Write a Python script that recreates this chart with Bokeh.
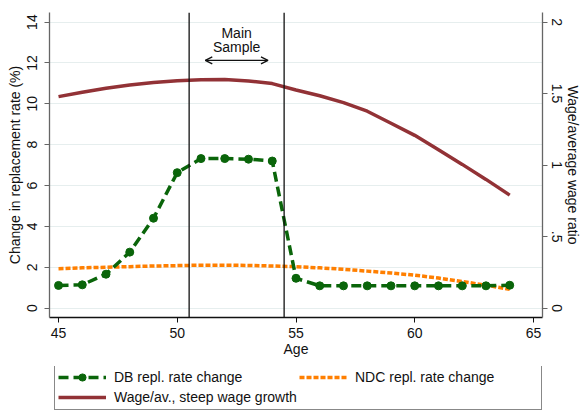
from bokeh.plotting import figure
from bokeh.layouts import column
from bokeh.models import (Range1d, LinearAxis, Span, Label, Arrow, OpenHead,
                          Legend, LegendItem, FixedTicker)
from bokeh.embed import file_html
from bokeh.resources import INLINE

ages = list(range(45, 65))
db_change = [1.11, 1.14, 1.66, 2.74, 4.40, 6.63, 7.32, 7.32, 7.29, 7.20,
             1.46, 1.09, 1.09, 1.09, 1.09, 1.09, 1.09, 1.09, 1.09, 1.12]
ndc_change = [1.93, 1.97, 2.00, 2.03, 2.06, 2.08, 2.10, 2.10, 2.09, 2.06,
              2.03, 1.97, 1.90, 1.81, 1.72, 1.61, 1.47, 1.30, 1.12, 0.92]
wage_ratio = [1.479, 1.51, 1.538, 1.56, 1.578, 1.59, 1.597, 1.598, 1.588, 1.57,
              1.525, 1.485, 1.437, 1.377, 1.293, 1.208, 1.107, 1.005, 0.90, 0.79]
sample_bounds = [50.5, 54.5]
x_ticks = [45, 50, 55, 60, 65]
left_ticks = [0, 2, 4, 6, 8, 10, 12, 14]
right_ticks = [0, 0.5, 1, 1.5, 2]
right_labels = {0: "0", 0.5: ".5", 1: "1", 1.5: "1.5", 2: "2"}
series_names = ["DB repl. rate change", "NDC repl. rate change",
                "Wage/av., steep wage growth"]

FONT = "Liberation Sans"
GREEN = "#0a650a"
ORANGE = "#ff7f00"
MAROON = "#923236"

p = figure(width=583, height=366, output_backend="svg", toolbar_location=None,
           x_range=Range1d(44.62, 65.38), y_range=Range1d(-0.46, 14.47),
           min_border_left=49, min_border_right=41, min_border_top=12,
           min_border_bottom=49)
p.outline_line_color = None
p.background_fill_color = "white"
p.border_fill_color = "white"
p.extra_y_ranges = {"ratio": Range1d(-0.46 / 7, 14.47 / 7)}

# grid
p.xgrid.visible = False
p.ygrid.ticker = FixedTicker(ticks=left_ticks)
p.ygrid.grid_line_color = "#e6eeee"
p.ygrid.grid_line_width = 1.2

def style_axis(ax, color):
    ax.axis_line_color = color
    ax.major_tick_line_color = color
    ax.axis_line_width = 1.3
    ax.major_tick_line_width = 1
    ax.major_tick_out = 5
    ax.major_tick_in = 0
    ax.minor_tick_line_color = None
    ax.major_label_text_font = FONT
    ax.major_label_text_font_size = "14px"
    ax.major_label_text_color = "#111111"
    ax.axis_label_text_font = FONT
    ax.axis_label_text_font_size = "14px"
    ax.axis_label_text_font_style = "normal"
    ax.axis_label_text_color = "#111111"

xa = p.xaxis[0]
xa.ticker = FixedTicker(ticks=x_ticks)
xa.axis_label = "Age"
style_axis(xa, "#111111")
xa.major_label_standoff = 5
xa.axis_label_standoff = 0

ya = p.yaxis[0]
ya.ticker = FixedTicker(ticks=left_ticks)
ya.axis_label = "Change in replacement rate (%)"
ya.major_label_orientation = "vertical"
style_axis(ya, "#666666")
ya.major_label_standoff = 7
ya.axis_label_standoff = 2

ra = LinearAxis(y_range_name="ratio", axis_label="Wage/average wage ratio")
ra.ticker = FixedTicker(ticks=right_ticks)
ra.major_label_overrides = right_labels
ra.major_label_orientation = "vertical"
style_axis(ra, "#666666")
ra.major_label_standoff = 4
ra.axis_label_standoff = 0
p.add_layout(ra, "right")

# sample bounds
for b in sample_bounds:
    p.add_layout(Span(location=b, dimension="height", line_color="#111111",
                      line_width=1.3))

WAGE_STYLE = dict(line_color=MAROON, line_width=3.5)
NDC_STYLE = dict(line_color=ORANGE, line_width=3.5, line_dash="5 2")
DB_STYLE = dict(line_color=GREEN, line_width=3.5, line_dash="10 5")
DOT_STYLE = dict(marker="circle", size=8, fill_color=GREEN, line_color=GREEN)

# series
p.line(ages, wage_ratio, y_range_name="ratio", **WAGE_STYLE)
p.line(ages, ndc_change, **NDC_STYLE)
p.line(ages, db_change, **DB_STYLE)
p.scatter(ages, db_change, **DOT_STYLE)

# annotation
p.add_layout(Label(x=52.5, y=13.45, text="Main", text_align="center",
                   text_baseline="middle", text_font=FONT,
                   text_font_size="14px", text_color="#111111"))
p.add_layout(Label(x=52.5, y=12.77, text="Sample", text_align="center",
                   text_baseline="middle", text_font=FONT,
                   text_font_size="14px", text_color="#111111"))
p.add_layout(Arrow(x_start=51.18, x_end=53.82, y_start=12.13, y_end=12.13,
                   line_color="#111111", line_width=1.3,
                   start=OpenHead(size=7, line_color="#111111", line_width=1.3),
                   end=OpenHead(size=7, line_color="#111111", line_width=1.3)))

# legend strip (separate figure below the chart, same series styles;
# its renderers hold the same series but lie outside its visible ranges)
lg = figure(width=583, height=44, output_backend="svg", toolbar_location=None,
            x_range=Range1d(0, 1), y_range=Range1d(0, 1),
            x_axis_type=None, y_axis_type=None, min_border=0,
            min_border_left=0, min_border_right=0, min_border_top=0,
            min_border_bottom=0)
lg.outline_line_color = None
lg.border_fill_color = "white"
lg.background_fill_color = "white"
l_db = lg.line(ages, db_change, **DB_STYLE)
l_dot = lg.scatter(ages, db_change, **DOT_STYLE)
l_ndc = lg.line(ages, ndc_change, **NDC_STYLE)
l_wage = lg.line(ages, wage_ratio, **WAGE_STYLE)

legend = Legend(items=[
    LegendItem(label=series_names[0], renderers=[l_db, l_dot]),
    LegendItem(label=series_names[1], renderers=[l_ndc]),
    LegendItem(label=series_names[2], renderers=[l_wage]),
], orientation="horizontal", ncols=2, location=(5, 0))
legend.label_text_font = FONT
legend.label_text_font_size = "14px"
legend.label_text_color = "#111111"
legend.glyph_width = 48
legend.glyph_height = 18
legend.label_height = 18
legend.label_width = 183
legend.label_standoff = 8
legend.spacing = 2
legend.padding = 3
legend.margin = 0
legend.border_line_color = "#111111"
legend.border_line_width = 1.2
legend.background_fill_color = "white"
legend.background_fill_alpha = 1
lg.add_layout(legend, "center")

layout = column(p, lg, spacing=0)
open("out.html", "w").write(file_html(layout, INLINE))
